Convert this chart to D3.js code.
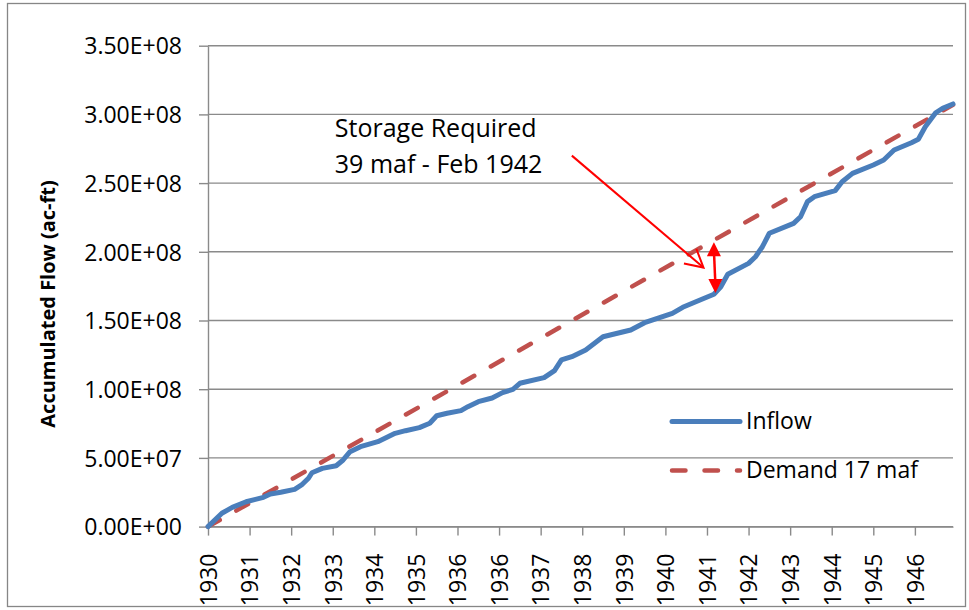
<!DOCTYPE html>
<html>
<head>
<meta charset="utf-8">
<script src="https://cdn.jsdelivr.net/npm/d3@7"></script>
<style>
  body { margin: 0; background: #fff; }
  text { font-family: "Open Sans", sans-serif; fill: #000; }
</style>
</head>
<body>
<div id="chart"></div>
<script>
var w = 969;
var h = 610;

// category axis: one point per month, a label every 12 points
var xLabels = ["1930", "1931", "1932", "1933", "1934", "1935", "1936", "1936", "1937",
               "1938", "1939", "1940", "1941", "1942", "1943", "1944", "1945", "1946"];
var monthCount = 216;

var yTicks = [0, 5e7, 1e8, 1.5e8, 2e8, 2.5e8, 3e8, 3.5e8];
var yTickLabels = ["0.00E+00", "5.00E+07", "1.00E+08", "1.50E+08", "2.00E+08",
                   "2.50E+08", "3.00E+08", "3.50E+08"];

// inflow, accumulated (million ac-ft) at month index
var inflowMonth = [0, 4, 7, 11, 16, 18, 21, 25, 27, 29, 30, 33, 37, 39, 41, 44, 49, 54, 57, 61,
                   64, 66, 69, 73, 75, 78, 82, 85, 88, 90, 97, 100, 102, 105, 109, 114, 122, 126, 134, 137,
                   142, 146, 148, 150, 156, 158, 160, 162, 169, 171, 173, 175, 181, 183, 186, 192, 195, 198, 203, 205,
                   207, 210, 212, 215];
var inflowMaf = [0, 9.7, 14.0, 18.1, 21.3, 23.7, 25.0, 27.1, 30.3, 35.2, 39.2, 42.4, 44.3, 48.5, 54.5, 58.2, 61.8, 67.9, 69.8, 72.0,
                 75.2, 80.7, 82.5, 84.4, 87.3, 90.9, 93.6, 97.5, 99.9, 104.3, 108.4, 113.5, 121.3, 123.7, 128.5, 138.2, 143.1, 148.4, 155.2, 159.6,
                 164.9, 169.1, 174.6, 183.6, 191.6, 196.4, 203.7, 213.5, 220.7, 225.5, 236.5, 240.1, 244.5, 251.0, 257.1, 263.2, 266.8, 274.1, 279.4, 281.9,
                 291.0, 301.2, 304.4, 307.6];

// demand 17 maf per year (straight line)
var demandMonth = [0, 215];
var demandMaf = [0, 307];

var seriesNames = ["Inflow", "Demand 17 maf"];

var inflow = inflowMonth.map((m, i) => ({ m: m, v: inflowMaf[i] * 1e6 }));
var demand = demandMonth.map((m, i) => ({ m: m, v: demandMaf[i] * 1e6 }));

var plotLeft = 208, plotRight = 953, plotTop = 45.7, plotBottom = 526.6;

var svg = d3.select("#chart")
            .append("svg")
            .attr("width", w)
            .attr("height", h);

// chart frame
svg.append("rect")
    .attr("x", 7.5).attr("y", 3.5)
    .attr("width", 958).attr("height", 603)
    .attr("fill", "#fff")
    .attr("stroke", "#868686")
    .attr("stroke-width", 1.3);

const xScale = d3.scaleLinear()
    .domain([0, monthCount - 1])
    .range([plotLeft, plotRight]);
const yScale = d3.scaleLinear()
    .domain([0, 3.5e8])
    .range([plotBottom, plotTop]);

// gridlines
svg.append("g")
    .selectAll("line")
    .data(yTicks)
    .enter()
    .append("line")
    .attr("x1", plotLeft).attr("x2", plotRight)
    .attr("y1", d => yScale(d)).attr("y2", d => yScale(d))
    .attr("stroke", "#8a8a8a")
    .attr("stroke-width", 1.4);

// y axis
const yAxis = d3.axisLeft(yScale)
    .tickValues(yTicks)
    .tickFormat((d, i) => yTickLabels[i])
    .tickSize(9)
    .tickSizeOuter(0)
    .tickPadding(17);
var gy = svg.append("g")
    .attr("transform", "translate(" + plotLeft + ",0)")
    .call(yAxis);
gy.select(".domain").attr("stroke", "#8a8a8a").attr("stroke-width", 1.4);
gy.selectAll(".tick line").attr("stroke", "#8a8a8a").attr("stroke-width", 1.4);
gy.selectAll(".tick text")
    .style("font-family", "'Open Sans', sans-serif")
    .style("font-size", "23px")
    .attr("fill", "#000")
    .attr("dy", "0.36em");

// x axis
const xAxis = d3.axisBottom(xScale)
    .tickValues(xLabels.map((d, i) => i * 12))
    .tickFormat((d, i) => xLabels[i])
    .tickSize(9)
    .tickSizeOuter(0)
    .tickPadding(0);
var gx = svg.append("g")
    .attr("transform", "translate(0," + plotBottom + ")")
    .call(xAxis);
gx.select(".domain").attr("stroke", "#8a8a8a").attr("stroke-width", 1.4);
gx.selectAll(".tick line").attr("stroke", "#8a8a8a").attr("stroke-width", 1.4);
gx.selectAll(".tick text")
    .style("font-family", "'Open Sans', sans-serif")
    .style("font-size", "23px")
    .attr("fill", "#000")
    .attr("text-anchor", "end")
    .attr("y", 0)
    .attr("dy", "0.36em")
    .attr("transform", "translate(0,27) rotate(-90)");

// y axis title
svg.append("text")
    .attr("transform", "translate(55,304) rotate(-90)")
    .attr("text-anchor", "middle")
    .style("font-size", "20px")
    .style("font-weight", "bold")
    .text("Accumulated Flow (ac-ft)");

// lines
const line = d3.line()
    .x(d => xScale(d.m))
    .y(d => yScale(d.v));

svg.append("path")
    .datum(demand)
    .attr("d", line)
    .attr("fill", "none")
    .attr("stroke", "#C0504D")
    .attr("stroke-width", 4.5)
    .attr("stroke-linecap", "round")
    .attr("stroke-dasharray", "13.5 19");

svg.append("path")
    .datum(inflow)
    .attr("d", line)
    .attr("fill", "none")
    .attr("stroke", "#4A7EBB")
    .attr("stroke-width", 5)
    .attr("stroke-linejoin", "round")
    .attr("stroke-linecap", "round");

// annotation: storage gap in Feb 1942
var gapMonth = 146, gapTop = 2.07e8, gapBottom = 1.70e8;
var calloutFrom = [105, 2.70e8], calloutTo = [143, 1.885e8];
var noteAnchor = [36.6, 2.838e8];

var red = "#FF0000";
var gx1 = xScale(gapMonth), gyTop = yScale(gapTop), gyBot = yScale(gapBottom);
svg.append("line")
    .attr("x1", gx1).attr("y1", gyTop + 8)
    .attr("x2", gx1 + 1.5).attr("y2", gyBot - 8)
    .attr("stroke", red).attr("stroke-width", 2.5);
svg.append("path")
    .attr("d", "M" + gx1 + "," + gyTop + " l7,14 l-14,0 Z")
    .attr("fill", red);
svg.append("path")
    .attr("d", "M" + (gx1 + 1.5) + "," + gyBot + " l7,-14 l-14,0 Z")
    .attr("fill", red);

var cx0 = xScale(calloutFrom[0]), cy0 = yScale(calloutFrom[1]);
var cx1 = xScale(calloutTo[0]), cy1 = yScale(calloutTo[1]);
svg.append("line")
    .attr("x1", cx0).attr("y1", cy0)
    .attr("x2", cx1).attr("y2", cy1)
    .attr("stroke", red).attr("stroke-width", 2);
var ang = Math.atan2(cy1 - cy0, cx1 - cx0);
var head = 20, spread = 0.5;
svg.append("path")
    .attr("d", "M" + (cx1 - head * Math.cos(ang - spread)) + "," + (cy1 - head * Math.sin(ang - spread)) +
               " L" + cx1 + "," + cy1 +
               " L" + (cx1 - head * Math.cos(ang + spread)) + "," + (cy1 - head * Math.sin(ang + spread)))
    .attr("fill", "none")
    .attr("stroke", red).attr("stroke-width", 2);

var note = svg.append("text")
    .attr("x", xScale(noteAnchor[0]))
    .attr("y", yScale(noteAnchor[1]))
    .style("font-size", "25px");
note.append("tspan").text("Storage Required");
note.append("tspan")
    .attr("x", xScale(noteAnchor[0]))
    .attr("dy", 36)
    .text("39 maf - Feb 1942");

// legend
var legend = svg.append("g");
legend.append("line")
    .attr("x1", 672).attr("x2", 740)
    .attr("y1", 421.5).attr("y2", 421.5)
    .attr("stroke", "#4A7EBB").attr("stroke-width", 5)
    .attr("stroke-linecap", "round");
legend.append("line")
    .attr("x1", 672).attr("x2", 740)
    .attr("y1", 470.5).attr("y2", 470.5)
    .attr("stroke", "#C0504D").attr("stroke-width", 4.5)
    .attr("stroke-linecap", "round")
    .attr("stroke-dasharray", "13.5 19");
legend.selectAll(".lbl")
    .data(seriesNames)
    .enter()
    .append("text")
    .attr("class", "lbl")
    .attr("x", 746)
    .attr("y", (d, i) => 429 + i * 49)
    .style("font-size", "23px")
    .text(d => d);
</script>
</body>
</html>
